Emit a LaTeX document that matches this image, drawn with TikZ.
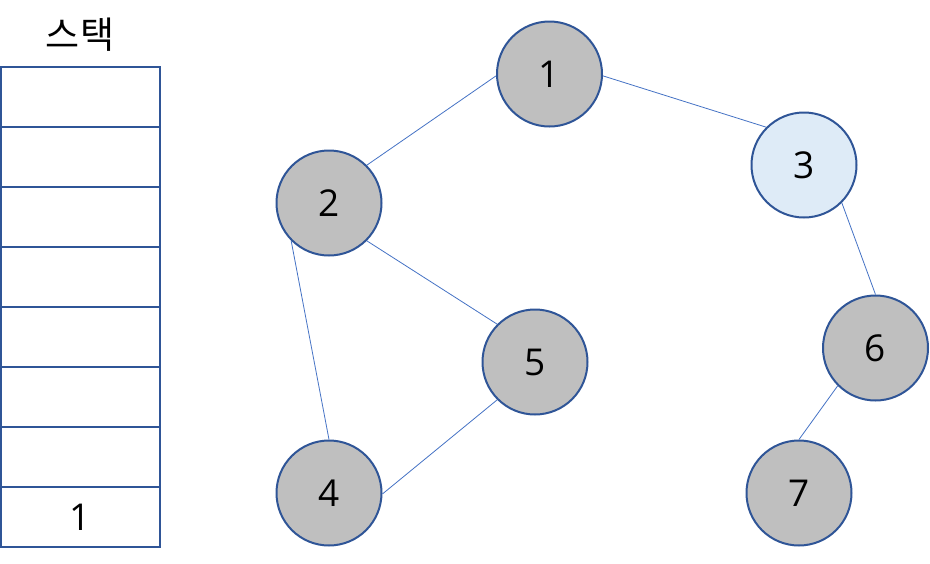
\documentclass[tikz,border=0pt]{standalone}
\usepackage{fontspec}
\setmainfont{Open Sans}
\newfontfamily\krfont{Noto Sans CJK KR}
\definecolor{nodegray}{HTML}{BFBFBF}
\definecolor{nodeblue}{HTML}{DEEBF7}
\definecolor{borderblue}{HTML}{2F5597}
\definecolor{edgeblue}{HTML}{4472C4}
\begin{document}
\begin{tikzpicture}[x=1pt,y=-1pt,
  vert/.style={circle,draw=borderblue,line width=2pt,fill=nodegray,minimum size=105pt,inner sep=0pt,font=\fontsize{37}{40}\selectfont},
  visited/.style={vert,fill=nodeblue},
  edge/.style={draw=edgeblue,line width=0.8pt},
  cell/.style={rectangle,draw=borderblue,line width=2pt,minimum width=159pt,minimum height=60pt,inner sep=0pt,font=\fontsize{37}{40}\selectfont}]
\useasboundingbox (0,0) rectangle (930,563);
% stack
\node[font=\krfont\fontsize{37}{40}\selectfont] (title) at (80,35) {스택};
\node[cell] (s8) at (80.5,97) {};
\node[cell] (s7) at (80.5,157) {};
\node[cell] (s6) at (80.5,217) {};
\node[cell] (s5) at (80.5,277) {};
\node[cell] (s4) at (80.5,337) {};
\node[cell] (s3) at (80.5,397) {};
\node[cell] (s2) at (80.5,457) {};
\node[cell] (s1) at (80.5,517) {1};
% graph
\node[vert] (n1) at (549.5,74) {1};
\node[vert] (n2) at (329,203) {2};
\node[visited] (n3) at (804,165) {3};
\node[vert] (n5) at (535,362) {5};
\node[vert] (n4) at (329,493) {4};
\node[vert] (n6) at (875.5,348) {6};
\node[vert] (n7) at (799,493) {7};
\draw[edge] (n1.182) -- (n2.45);
\draw[edge] (n1.-2) -- (n3.135);
\draw[edge] (n2.-45) -- (n5.135);
\draw[edge] (n2.225) -- (n4.90);
\draw[edge] (n4.-1) -- (n5.225);
\draw[edge] (n3.-45) -- (n6.90);
\draw[edge] (n6.225) -- (n7.90);
\end{tikzpicture}
\end{document}
